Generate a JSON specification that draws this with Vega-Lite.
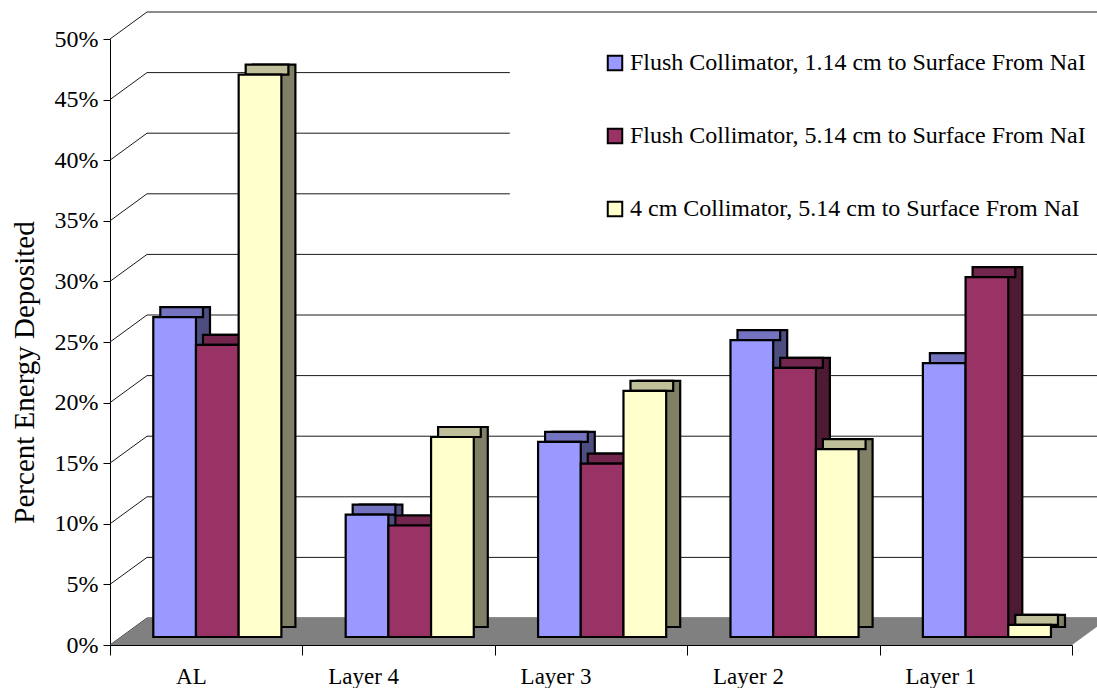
{
  "$schema": "https://vega.github.io/schema/vega-lite/v6.json",
  "width": 962,
  "height": 606,
  "autosize": "none",
  "padding": {"left": 110, "top": 39, "right": 25, "bottom": 43},
  "background": "white",
  "config": {
    "font": "Liberation Serif",
    "axis": {"labelFont": "Liberation Serif", "titleFont": "Liberation Serif"},
    "legend": {"labelFont": "Liberation Serif"},
    "view": {"stroke": null}
  },
  "datasets": {
    "deposits": [
      {"layer": "AL", "series": "Flush Collimator, 1.14 cm to Surface From NaI", "share": 0.264},
      {"layer": "AL", "series": "Flush Collimator, 5.14 cm to Surface From NaI", "share": 0.241},
      {"layer": "AL", "series": "4 cm Collimator, 5.14 cm to Surface From NaI", "share": 0.464},
      {"layer": "Layer 4", "series": "Flush Collimator, 1.14 cm to Surface From NaI", "share": 0.101},
      {"layer": "Layer 4", "series": "Flush Collimator, 5.14 cm to Surface From NaI", "share": 0.092},
      {"layer": "Layer 4", "series": "4 cm Collimator, 5.14 cm to Surface From NaI", "share": 0.165},
      {"layer": "Layer 3", "series": "Flush Collimator, 1.14 cm to Surface From NaI", "share": 0.161},
      {"layer": "Layer 3", "series": "Flush Collimator, 5.14 cm to Surface From NaI", "share": 0.143},
      {"layer": "Layer 3", "series": "4 cm Collimator, 5.14 cm to Surface From NaI", "share": 0.203},
      {"layer": "Layer 2", "series": "Flush Collimator, 1.14 cm to Surface From NaI", "share": 0.245},
      {"layer": "Layer 2", "series": "Flush Collimator, 5.14 cm to Surface From NaI", "share": 0.222},
      {"layer": "Layer 2", "series": "4 cm Collimator, 5.14 cm to Surface From NaI", "share": 0.155},
      {"layer": "Layer 1", "series": "Flush Collimator, 1.14 cm to Surface From NaI", "share": 0.226},
      {"layer": "Layer 1", "series": "Flush Collimator, 5.14 cm to Surface From NaI", "share": 0.297},
      {"layer": "Layer 1", "series": "4 cm Collimator, 5.14 cm to Surface From NaI", "share": 0.010}
    ],
    "ticks": [
      {"v": 0}, {"v": 0.05}, {"v": 0.1}, {"v": 0.15}, {"v": 0.2}, {"v": 0.25},
      {"v": 0.3}, {"v": 0.35}, {"v": 0.4}, {"v": 0.45}, {"v": 0.5}
    ]
  },
  "layer": [
    {
      "description": "left wall: diagonal lines from each y tick back to the rear wall",
      "data": {"name": "ticks"},
      "mark": {"type": "rule", "color": "#1a1a1a", "strokeWidth": 1, "x2Offset": 37, "y2Offset": -27},
      "encoding": {
        "x": {"datum": "AL", "type": "nominal", "bandPosition": 0, "title": null},
        "x2": {"datum": "AL", "bandPosition": 0},
        "y": {"field": "v", "type": "quantitative", "title": "Percent Energy Deposited"},
        "y2": {"field": "v"}
      }
    },
    {
      "description": "rear wall gridlines running the full width",
      "data": {"name": "ticks"},
      "transform": [{"filter": "datum.v < 0.33 || datum.v > 0.48"}],
      "mark": {"type": "rule", "color": "#1a1a1a", "strokeWidth": 1, "xOffset": 37, "x2Offset": 37, "yOffset": -27, "y2Offset": -27},
      "encoding": {
        "x": {"datum": "AL", "type": "nominal", "bandPosition": 0, "title": null},
        "x2": {"datum": "Layer 1", "bandPosition": 1},
        "y": {"field": "v", "type": "quantitative", "title": "Percent Energy Deposited"},
        "y2": {"field": "v"}
      }
    },
    {
      "description": "rear wall gridlines that stop at the legend",
      "data": {"name": "ticks"},
      "transform": [{"filter": "datum.v > 0.33 && datum.v < 0.48"}],
      "mark": {"type": "rule", "color": "#1a1a1a", "strokeWidth": 1, "xOffset": 37, "x2Offset": 15, "yOffset": -27, "y2Offset": -27},
      "encoding": {
        "x": {"datum": "AL", "type": "nominal", "bandPosition": 0, "title": null},
        "x2": {"datum": "Layer 3", "bandPosition": 0},
        "y": {"field": "v", "type": "quantitative", "title": "Percent Energy Deposited"},
        "y2": {"field": "v"}
      }
    },
    {
      "description": "grey floor of the 3-D box",
      "data": {"values": [{}]},
      "mark": {
        "type": "point",
        "filled": true,
        "fill": "#808080",
        "strokeWidth": 0,
        "opacity": 1,
        "size": 1440000,
        "shape": "M-0.8017,0L0.8017,0L0.8633,-0.045L-0.74,-0.045Z"
      },
      "encoding": {
        "x": {"datum": "Layer 3", "type": "nominal", "title": null},
        "y": {"datum": 0, "type": "quantitative", "title": "Percent Energy Deposited"}
      }
    },
    {
      "description": "bar side faces",
      "data": {"name": "deposits"},
      "mark": {"type": "bar", "stroke": "black", "strokeWidth": 2.2, "yOffset": -18, "y2Offset": -18},
      "encoding": {
        "x": {"field": "layer", "type": "nominal", "sort": null, "title": null},
        "xOffset": {
          "field": "series", "type": "nominal", "sort": null,
          "scale": {"paddingInner": 0, "paddingOuter": 0.753, "align": 0.891}
        },
        "y": {"field": "share", "type": "quantitative", "stack": null, "title": "Percent Energy Deposited"},
        "y2": {"datum": 0},
        "fill": {
          "field": "series", "type": "nominal", "sort": null, "legend": null,
          "scale": {
            "domain": ["Flush Collimator, 1.14 cm to Surface From NaI", "Flush Collimator, 5.14 cm to Surface From NaI", "4 cm Collimator, 5.14 cm to Surface From NaI"],
            "range": ["#4D4D80", "#4D1A33", "#808066"]
          }
        }
      }
    },
    {
      "description": "bar top faces",
      "data": {"name": "deposits"},
      "mark": {"type": "bar", "stroke": "black", "strokeWidth": 2.2, "yOffset": -18, "y2Offset": -8},
      "encoding": {
        "x": {"field": "layer", "type": "nominal", "sort": null, "title": null},
        "xOffset": {
          "field": "series", "type": "nominal", "sort": null,
          "scale": {"paddingInner": 0, "paddingOuter": 0.753, "align": 0.782}
        },
        "y": {"field": "share", "type": "quantitative", "stack": null, "title": "Percent Energy Deposited"},
        "y2": {"field": "share"},
        "fill": {
          "field": "series", "type": "nominal", "sort": null, "legend": null,
          "scale": {
            "domain": ["Flush Collimator, 1.14 cm to Surface From NaI", "Flush Collimator, 5.14 cm to Surface From NaI", "4 cm Collimator, 5.14 cm to Surface From NaI"],
            "range": ["#7373BF", "#73264D", "#BFBF99"]
          }
        }
      }
    },
    {
      "description": "bar front faces, with the axes and legend",
      "data": {"name": "deposits"},
      "mark": {"type": "bar", "stroke": "black", "strokeWidth": 2.2, "yOffset": -8, "y2Offset": -8},
      "encoding": {
        "x": {
          "field": "layer", "type": "nominal", "sort": null, "title": null,
          "scale": {"domain": ["AL", "Layer 4", "Layer 3", "Layer 2", "Layer 1"], "paddingInner": 0, "paddingOuter": 0},
          "axis": {
            "orient": "bottom",
            "tickBand": "extent",
            "tickSize": 10,
            "tickColor": "black",
            "domainColor": "black",
            "labelColor": "black",
            "labelFont": "Liberation Serif",
            "labelFontSize": 23,
            "labelPadding": 21,
            "labelAngle": 0,
            "grid": false
          }
        },
        "xOffset": {
          "field": "series", "type": "nominal", "sort": null,
          "scale": {"paddingInner": 0, "paddingOuter": 0.753, "align": 0.673}
        },
        "y": {
          "field": "share", "type": "quantitative", "stack": null,
          "title": "Percent Energy Deposited",
          "scale": {"domain": [0, 0.5], "nice": false, "zero": true},
          "axis": {
            "values": [0, 0.05, 0.1, 0.15, 0.2, 0.25, 0.3, 0.35, 0.4, 0.45, 0.5],
            "format": ".0%",
            "grid": false,
            "tickSize": 7,
            "tickColor": "black",
            "domainColor": "black",
            "labelColor": "black",
            "labelFont": "Liberation Serif",
            "labelFontSize": 24,
            "labelPadding": 5,
            "titleFont": "Liberation Serif",
            "titleFontSize": 29,
            "titleFontWeight": "normal",
            "titleColor": "black",
            "titlePadding": 15,
            "titleY": 333
          }
        },
        "y2": {"datum": 0},
        "fill": {
          "field": "series", "type": "nominal", "sort": null,
          "scale": {
            "domain": ["Flush Collimator, 1.14 cm to Surface From NaI", "Flush Collimator, 5.14 cm to Surface From NaI", "4 cm Collimator, 5.14 cm to Surface From NaI"],
            "range": ["#9999FF", "#993366", "#FFFFCC"]
          },
          "legend": {
            "orient": "none",
            "legendX": 493,
            "legendY": 12,
            "title": null,
            "symbolType": "square",
            "symbolSize": 210,
            "symbolStrokeColor": "black",
            "symbolStrokeWidth": 2,
            "labelFont": "Liberation Serif",
            "labelFontSize": 24,
            "labelColor": "black",
            "labelOffset": 3,
            "labelLimit": 0,
            "rowPadding": 49
          }
        }
      }
    }
  ],
  "resolve": {"scale": {"fill": "independent", "xOffset": "independent"}}
}
